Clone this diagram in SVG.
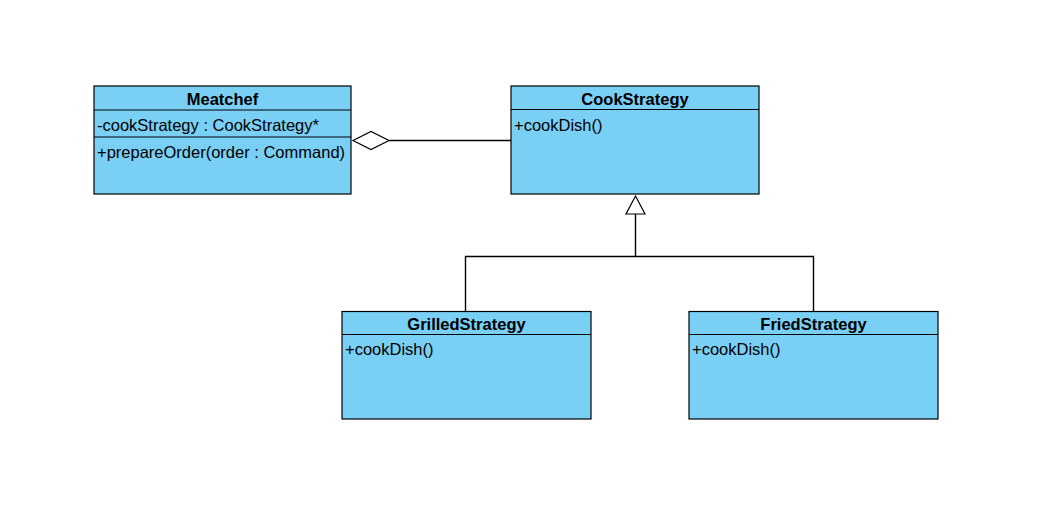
<svg xmlns="http://www.w3.org/2000/svg" width="1037" height="520" viewBox="0 0 1037 520">
<style>
.box{fill:#7ACFF5;stroke:#000;stroke-width:1.2}
.sep{stroke:#000;stroke-width:1.2}
.title{font-family:"Liberation Sans",Arial,sans-serif;font-size:16.5px;font-weight:bold;text-anchor:middle;fill:#000}
.member{font-family:"Liberation Sans",Arial,sans-serif;font-size:16.5px;fill:#000}
.conn{fill:none;stroke:#000;stroke-width:1.4}
</style>
<rect x="0" y="0" width="1037" height="520" fill="#fff"/>
<g id="connectors">
<polyline class="conn" points="389,140.5 511,140.5"/>
<polygon points="353,140.5 371,131.5 389,140.5 371,149.5" fill="#fff" stroke="#000" stroke-width="1.2"/>
<polyline class="conn" points="635.5,214 635.5,256.5"/>
<polyline class="conn" points="465.5,311 465.5,256.5 813.5,256.5 813.5,311"/>
<polygon points="635.5,196 645,214 626,214" fill="#fff" stroke="#000" stroke-width="1.2"/>
</g>
<g id="Meatchef">
<rect class="box" x="94" y="86" width="257" height="108"/>
<line class="sep" x1="94" y1="110" x2="351" y2="110"/>
<line class="sep" x1="94" y1="137" x2="351" y2="137"/>
<text class="title" x="222.5" y="105">Meatchef</text>
<text class="member" x="97" y="131">-cookStrategy : CookStrategy*</text>
<text class="member" x="97" y="158">+prepareOrder(order : Command)</text>
</g>
<g id="CookStrategy">
<rect class="box" x="511" y="86" width="248" height="108"/>
<line class="sep" x1="511" y1="109.5" x2="759" y2="109.5"/>
<text class="title" x="635" y="105">CookStrategy</text>
<text class="member" x="514" y="131">+cookDish()</text>
</g>
<g id="GrilledStrategy">
<rect class="box" x="342" y="311.5" width="249" height="107.5"/>
<line class="sep" x1="342" y1="334.5" x2="591" y2="334.5"/>
<text class="title" x="466.5" y="330">GrilledStrategy</text>
<text class="member" x="345" y="355">+cookDish()</text>
</g>
<g id="FriedStrategy">
<rect class="box" x="689" y="311.5" width="249" height="107.5"/>
<line class="sep" x1="689" y1="334.5" x2="938" y2="334.5"/>
<text class="title" x="813.5" y="330">FriedStrategy</text>
<text class="member" x="692" y="355">+cookDish()</text>
</g>
</svg>
